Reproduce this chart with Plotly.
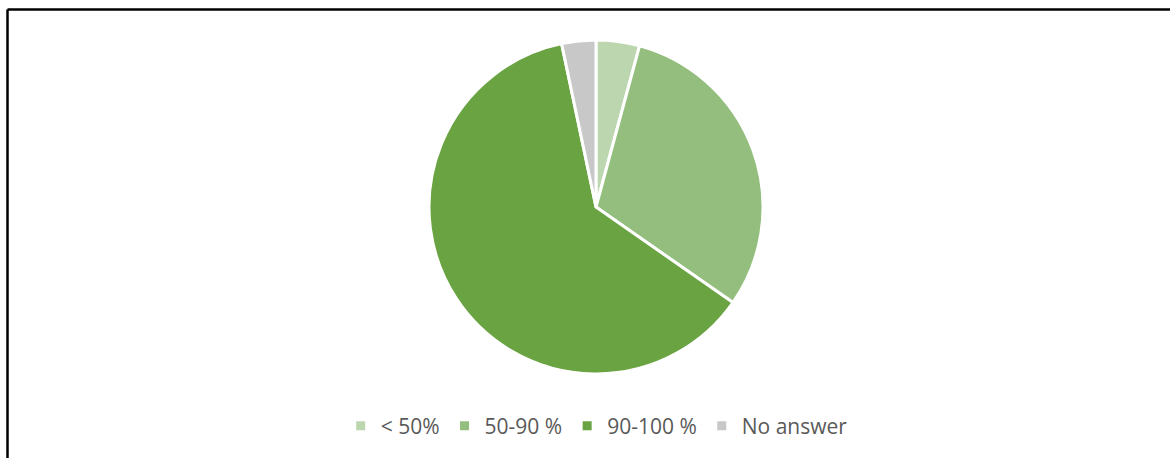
import plotly.graph_objects as go

categories = ["< 50%", "50-90 %", "90-100 %", "No answer"]
shares = [4.2, 30.5, 62.0, 3.3]
colors = ["#BCD6B0", "#93BE7E", "#6AA342", "#C8C8C8"]

W, H = 1170, 458
cx, cy, r = 596, 207, 167

fig = go.Figure(go.Pie(
    labels=categories,
    values=shares,
    sort=False,
    direction="clockwise",
    rotation=0,
    textinfo="none",
    hoverinfo="label+percent",
    marker=dict(colors=colors, line=dict(color="white", width=3)),
    domain=dict(x=[(cx - r) / W, (cx + r) / W], y=[1 - (cy + r) / H, 1 - (cy - r) / H]),
))

# frame lines on the top and left edges
fig.add_shape(type="line", xref="paper", yref="paper",
              x0=7.5 / W, x1=1, y0=1 - 9.5 / H, y1=1 - 9.5 / H,
              line=dict(color="black", width=2.5))
fig.add_shape(type="line", xref="paper", yref="paper",
              x0=7.5 / W, x1=7.5 / W, y0=0, y1=1 - 9.5 / H,
              line=dict(color="black", width=2.5))

fig.update_layout(
    width=W, height=H,
    margin=dict(l=0, r=0, t=0, b=0),
    paper_bgcolor="white",
    plot_bgcolor="white",
    showlegend=True,
    legend=dict(
        orientation="h",
        x=0.51, xanchor="center",
        y=1 - 426 / H, yanchor="middle",
        font=dict(family="Open Sans, Liberation Sans, sans-serif", size=21, color="#595959"),
        itemwidth=30,
        traceorder="normal",
    ),
)

fig.write_html("out.html")
